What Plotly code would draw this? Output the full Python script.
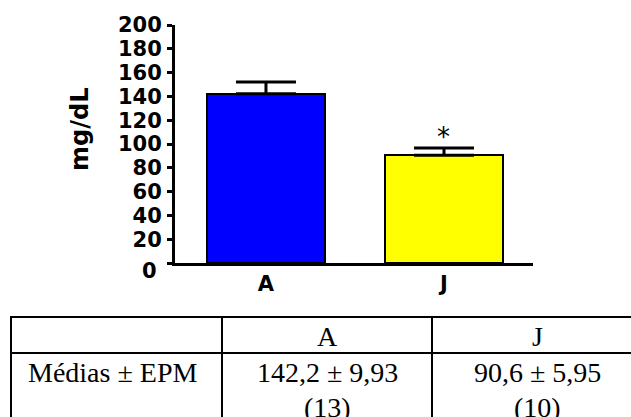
import plotly.graph_objects as go

groups = ["A", "J"]
means = [142.2, 90.6]
sems = [9.93, 5.95]
ns = [13, 10]
bar_colors = ["#0000FF", "#FFFF00"]
y_ticks = [0, 20, 40, 60, 80, 100, 120, 140, 160, 180, 200]
row_label = "Médias ± EPM"

W, H = 631, 417
SANS = "DejaVu Sans, Liberation Sans, Arial, sans-serif"
SERIF = "Liberation Serif, Times New Roman, serif"


def px(x):
    return x / W


def py(y):
    return (H - y) / H


fig = go.Figure()
fig.add_trace(go.Bar(
    x=groups, y=means, width=0.663,
    marker=dict(color=bar_colors, line=dict(color="black", width=2)),
    error_y=dict(type="data", array=sems, arrayminus=[0] * len(sems), symmetric=False,
                 color="black", thickness=3, width=30),
    showlegend=False, hoverinfo="skip",
))

# significance marker on J
fig.add_annotation(x=groups[1], y=means[1] + sems[1], xref="x", yref="y", text="*",
                   showarrow=False, yanchor="bottom", yshift=-6,
                   font=dict(family=SANS, size=26, color="black"))

# zero label sits a bit below the axis in the original
fig.add_annotation(x=px(159), y=0, xref="paper", yref="y", text="<b>0</b>", showarrow=False,
                   xanchor="right", yanchor="middle", yshift=-8,
                   font=dict(family=SANS, size=21, color="black"))

# y title
fig.add_annotation(x=px(80), y=py(130), xref="paper", yref="paper", text="<b>mg/dL</b>",
                   textangle=-90, showarrow=False, xanchor="center", yanchor="middle",
                   font=dict(family=SANS, size=24, color="black"))

# ---- table (lines + text) ----
col_edges = [11, 222, 432, 642]
row_edges = [317, 353, 440]
line = dict(color="black", width=2)
for ry in row_edges[:2]:
    fig.add_shape(type="line", xref="paper", yref="paper", x0=px(col_edges[0] - 1), x1=px(col_edges[-1]),
                  y0=py(ry), y1=py(ry), line=line)
for cx in col_edges:
    fig.add_shape(type="line", xref="paper", yref="paper", x0=px(cx), x1=px(cx),
                  y0=py(row_edges[0]), y1=py(row_edges[-1]), line=line)

tfont = dict(family=SERIF, size=28, color="black")
header_y = 336
for i, g in enumerate(groups):
    cx = (col_edges[i + 1] + col_edges[i + 2]) / 2
    fig.add_annotation(x=px(cx), y=py(header_y), xref="paper", yref="paper", text=g,
                       showarrow=False, xanchor="center", yanchor="middle", font=tfont)
fig.add_annotation(x=px(col_edges[0] + 15), y=py(372), xref="paper", yref="paper", text=row_label,
                   showarrow=False, xanchor="left", yanchor="middle", font=tfont)
for i, (m, s, n) in enumerate(zip(means, sems, ns)):
    cx = (col_edges[i + 1] + col_edges[i + 2]) / 2
    val = f"{m:.1f}".replace(".", ",") + " ± " + f"{s:.2f}".replace(".", ",")
    fig.add_annotation(x=px(cx), y=py(372), xref="paper", yref="paper", text=val,
                       showarrow=False, xanchor="center", yanchor="middle", font=tfont)
    fig.add_annotation(x=px(cx), y=py(407), xref="paper", yref="paper", text=f"({n})",
                       showarrow=False, xanchor="center", yanchor="middle", font=tfont)

fig.update_layout(
    width=W, height=H, margin=dict(l=0, r=0, t=0, b=0, autoexpand=False),
    plot_bgcolor="white", paper_bgcolor="white",
    bargap=0,
    xaxis=dict(domain=[px(175), px(533)], range=[-0.511, 1.5], showline=True, linecolor="black",
               linewidth=3, ticks="", showgrid=False, zeroline=False, automargin=False,
               tickfont=dict(family=SANS, size=21, color="black"),
               tickvals=groups, ticktext=[f"<b>{g}</b>" for g in groups]),
    yaxis=dict(domain=[py(263), py(25)], range=[0, 200], showline=True, automargin=False,
               linecolor="black", linewidth=3, ticks="outside", ticklen=5, tickwidth=3,
               tickcolor="black", showgrid=False, zeroline=False,
               tickvals=y_ticks, ticktext=["" if v == 0 else f"<b>{v}</b>" for v in y_ticks],
               tickfont=dict(family=SANS, size=21, color="black"), ticklabelstandoff=1),
)

fig.write_html("out.html")
